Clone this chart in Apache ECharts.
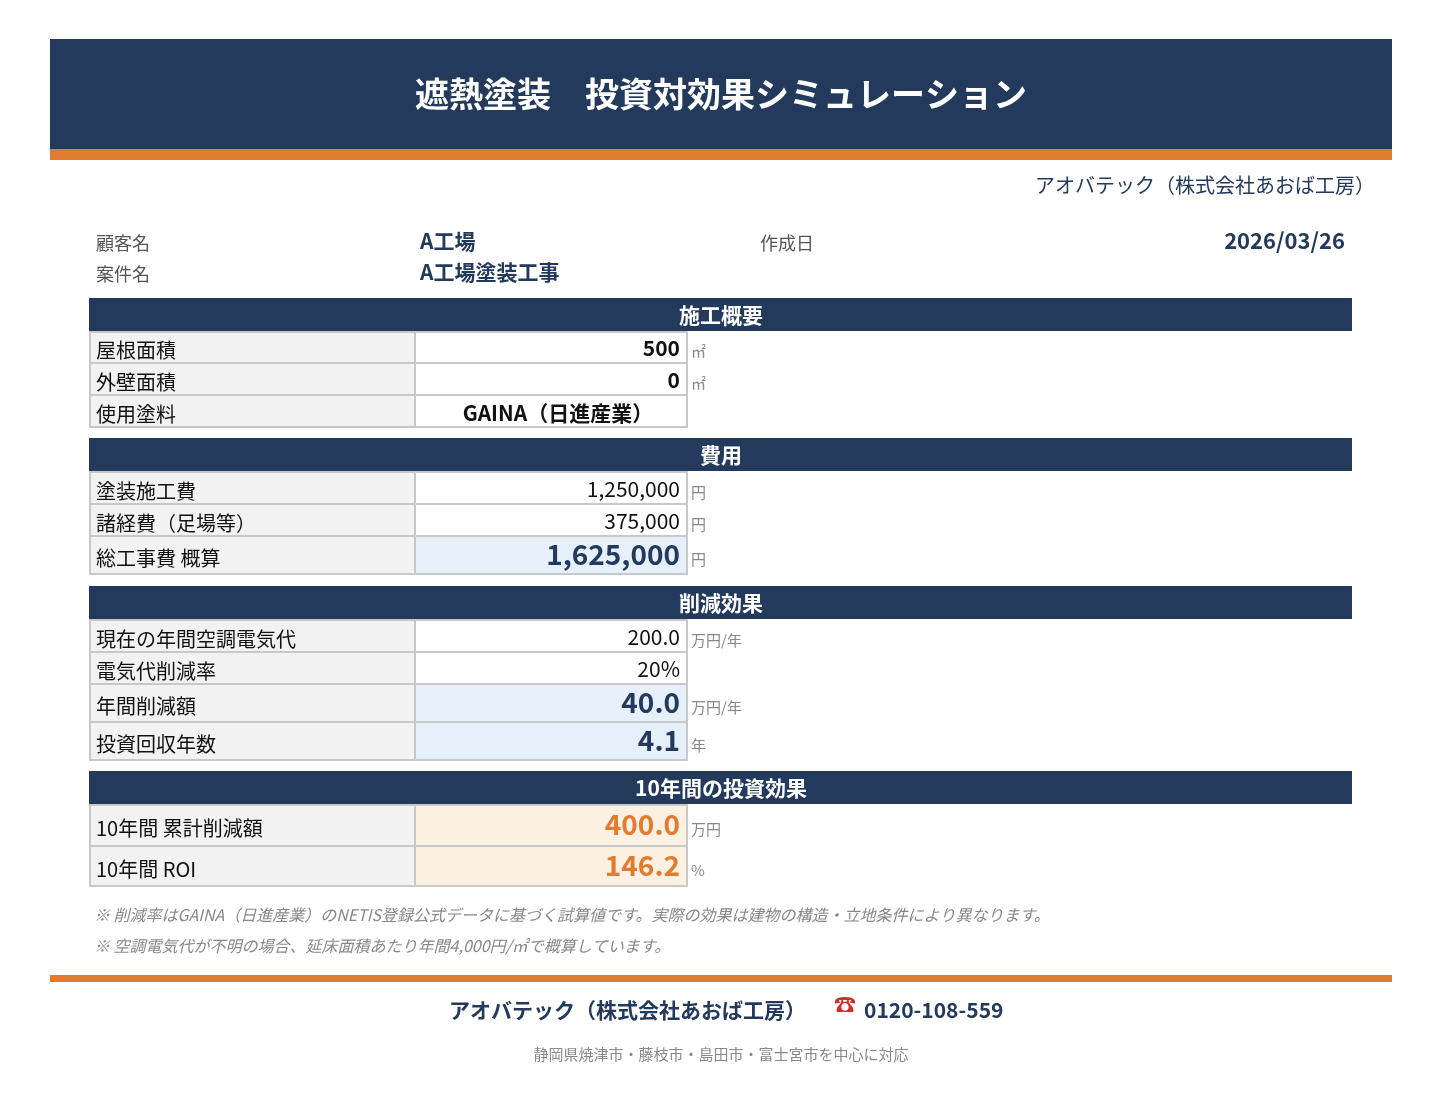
<!DOCTYPE html>
<html><head><meta charset="utf-8">
<script src="https://cdn.jsdelivr.net/npm/echarts@6/dist/echarts.min.js"></script>
<style>html,body{margin:0;background:#fff}#main{width:1448px;height:1096px}</style>
</head><body><div id="main"></div>
<script>
var title = '遮熱塗装　投資対効果シミュレーション';
var company = 'アオバテック（株式会社あおば工房）';
var infoLabels = ['顧客名', '案件名'];
var infoValues = ['A工場', 'A工場塗装工事'];
var dateLabel = '作成日';
var dateValue = '2026/03/26';

var sectionTitles = ['施工概要', '費用', '削減効果', '10年間の投資効果'];
var rowLabels = [
  ['屋根面積', '外壁面積', '使用塗料'],
  ['塗装施工費', '諸経費（足場等）', '総工事費 概算'],
  ['現在の年間空調電気代', '電気代削減率', '年間削減額', '投資回収年数'],
  ['10年間 累計削減額', '10年間 ROI']
];
var rowValues = [
  ['500', '0', 'GAINA（日進産業）'],
  ['1,250,000', '375,000', '1,625,000'],
  ['200.0', '20%', '40.0', '4.1'],
  ['400.0', '146.2']
];
var rowUnits = [
  ['㎡', '㎡', ''],
  ['円', '円', '円'],
  ['万円/年', '', '万円/年', '年'],
  ['万円', '%']
];
var notes = [
  '※ 削減率はGAINA（日進産業）のNETIS登録公式データに基づく試算値です。実際の効果は建物の構造・立地条件により異なります。',
  '※ 空調電気代が不明の場合、延床面積あたり年間4,000円/㎡で概算しています。'
];
var phone = '0120-108-559';
var area = '静岡県焼津市・藤枝市・島田市・富士宮市を中心に対応';

// layout
var NAVY = '#233a5c', ORANGE = '#e07b30', FONT = '"Noto Sans CJK JP", sans-serif';
var sectionTop = [298, 438, 586, 771];
var rowH = [[31, 32, 32], [32, 32, 38], [32, 32, 38, 38], [41, 40]];
// 0 normal, 1 blue highlight, 2 orange highlight
var rowKind = [[0, 0, 0], [0, 0, 1], [0, 0, 1, 1], [2, 2]];

var g = [];
function rect(x, y, w, h, fill, stroke) {
  g.push({type: 'rect', shape: {x: x, y: y, width: w, height: h},
    style: {fill: fill, stroke: stroke || null, lineWidth: stroke ? 2 : 0}});
}
function text(x, y, t, size, color, opt) {
  opt = opt || {};
  g.push({type: 'text', x: x, y: y, style: {text: t, fontSize: size, fill: color,
    fontFamily: FONT, fontWeight: opt.bold ? 'bold' : 'normal', fontStyle: opt.italic ? 'italic' : 'normal',
    textAlign: opt.align || 'left', textVerticalAlign: 'middle'}});
}

rect(50, 39, 1342, 111, NAVY);
rect(50, 149, 1342, 11, ORANGE);
text(721, 94, title, 34, '#fff', {bold: true, align: 'center'});
text(1375, 185, company, 20, NAVY, {align: 'right'});

infoLabels.forEach(function (l, i) {
  text(96, 243 + i * 31, l, 18, '#555');
  text(420, 241 + i * 31, infoValues[i], 21, NAVY, {bold: true});
});
text(760, 243, dateLabel, 18, '#555');
text(1345, 241, dateValue, 22, NAVY, {bold: true, align: 'right'});

sectionTitles.forEach(function (s, si) {
  var y = sectionTop[si];
  rect(89, y, 1263, 33, NAVY);
  text(721, y + 17, s, 21, '#fff', {bold: true, align: 'center'});
  y += 34;
  rowLabels[si].forEach(function (lab, ri) {
    var h = rowH[si][ri], k = rowKind[si][ri];
    rect(90, y, 325, h, '#f2f2f2', '#c8c8c8');
    rect(415, y, 272, h, k === 1 ? '#e5f0fa' : k === 2 ? '#fbf0e1' : '#fff', '#c8c8c8');
    text(96, y + h / 2 + 3, lab, 20, '#111');
    var v = rowValues[si][ri];
    if (si === 0 && ri === 2) {
      text(558, y + h / 2 + 2, v, 21, '#111', {bold: true, align: 'center'});
    } else if (k === 0) {
      text(680, y + h / 2 + 1, v, 21, '#111', {bold: si === 0, align: 'right'});
    } else {
      text(680, y + h / 2 - 1, v, 28, k === 1 ? NAVY : ORANGE, {bold: true, align: 'right'});
    }
    if (rowUnits[si][ri]) text(691, y + h / 2 + 4, rowUnits[si][ri], 15, '#888');
    y += h;
  });
});

notes.forEach(function (n, i) {
  text(94, 915 + i * 31, n, 16, '#888', {italic: true});
});
rect(50, 975, 1342, 7, ORANGE);
text(806, 1010, company, 21, NAVY, {bold: true, align: 'right'});
text(845, 1004, '☎', 22, '#d0302a', {align: 'center'});
text(864, 1010, phone, 21, NAVY, {bold: true});
text(721, 1054, area, 15, '#888', {align: 'center'});

var chart = echarts.init(document.getElementById('main'));
chart.setOption({backgroundColor: '#fff', graphic: {elements: g}});
</script></body></html>
